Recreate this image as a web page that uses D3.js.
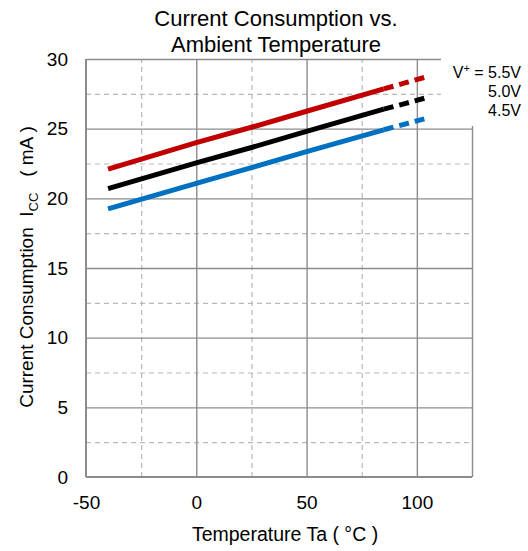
<!DOCTYPE html>
<html>
<head>
<meta charset="utf-8">
<script src="https://cdn.jsdelivr.net/npm/d3@7"></script>
<style>
  body { margin: 0; background: #fff; }
  text { font-family: "Liberation Sans", Arial, sans-serif; fill: #000; }
</style>
</head>
<body>
<div id="chart"></div>
<script>
// data
var solidTemps = [-40, 0, 25, 50, 85];
var dashTemps = [85, 95, 105];
var red55Solid = [22.1, 24.0, 25.1, 26.25, 27.85];
var red55Dash = [27.85, 28.3, 28.75];
var black50Solid = [20.7, 22.55, 23.65, 24.8, 26.4];
var black50Dash = [26.4, 26.82, 27.25];
var blue45Solid = [19.24, 21.07, 22.2, 23.35, 24.92];
var blue45Dash = [24.92, 25.35, 25.77];
var xTicks = [-50, 0, 50, 100];
var yTicks = [0, 5, 10, 15, 20, 25, 30];
var legendLabels = ["5.5V", "5.0V", "4.5V"];

var width = 528, height = 551;

var svg = d3.select("#chart").append("svg")
    .attr("width", width)
    .attr("height", height);

var x = d3.scaleLinear().domain([-50, 125]).range([86, 472]);
var y = d3.scaleLinear().domain([0, 30]).range([477, 59]);

// minor dashed grid
svg.append("g")
    .attr("transform", "translate(0," + y(0) + ")")
    .call(d3.axisBottom(x).tickValues([-25, 25, 75]).tickSize(-(y(0) - y(30))).tickFormat(""))
    .call(function(g) { g.select(".domain").remove(); })
    .selectAll("line")
    .attr("stroke", "#b8b8b8")
    .attr("stroke-width", 1.2)
    .attr("stroke-dasharray", "5,4");

svg.append("g")
    .attr("transform", "translate(" + x(-50) + ",0)")
    .call(d3.axisLeft(y).tickValues(d3.range(2.5, 30, 5)).tickSize(-(x(125) - x(-50))).tickFormat(""))
    .call(function(g) { g.select(".domain").remove(); })
    .selectAll("line")
    .attr("stroke", "#b8b8b8")
    .attr("stroke-width", 1.2)
    .attr("stroke-dasharray", "5,4");

// major solid grid
svg.append("g")
    .attr("transform", "translate(0," + y(0) + ")")
    .call(d3.axisBottom(x).tickValues([0, 50, 100, 125]).tickSize(-(y(0) - y(30))).tickFormat(""))
    .call(function(g) { g.select(".domain").remove(); })
    .selectAll("line")
    .attr("stroke", "#8c8c8c")
    .attr("stroke-width", 1.4);

svg.append("g")
    .attr("transform", "translate(" + x(-50) + ",0)")
    .call(d3.axisLeft(y).tickValues([5, 10, 15, 20, 25, 30]).tickSize(-(x(125) - x(-50))).tickFormat(""))
    .call(function(g) { g.select(".domain").remove(); })
    .selectAll("line")
    .attr("stroke", "#8c8c8c")
    .attr("stroke-width", 1.4);

// axis frame (left + bottom)
svg.append("line")
    .attr("x1", x(-50)).attr("x2", x(-50))
    .attr("y1", y(30)).attr("y2", y(0))
    .attr("stroke", "#8c8c8c").attr("stroke-width", 2);
svg.append("line")
    .attr("x1", x(-50)).attr("x2", x(125))
    .attr("y1", y(0)).attr("y2", y(0))
    .attr("stroke", "#8c8c8c").attr("stroke-width", 2);

// tick labels (plain hyphen for negatives, like the original)
var plain = function(d) { return String(d); };

svg.append("g")
    .attr("transform", "translate(" + (x(-50) - 15) + ",0)")
    .call(d3.axisLeft(y).tickValues(yTicks).tickSize(0).tickFormat(plain))
    .call(function(g) { g.select(".domain").remove(); })
    .selectAll("text")
    .style("font-size", "19px")
    .style("font-family", "Liberation Sans, Arial, sans-serif")
    .attr("fill", "#000");

svg.append("g")
    .attr("transform", "translate(0," + (y(0) + 15) + ")")
    .call(d3.axisBottom(x).tickValues(xTicks).tickSize(0).tickFormat(plain))
    .call(function(g) { g.select(".domain").remove(); })
    .selectAll("text")
    .style("font-size", "19px")
    .style("font-family", "Liberation Sans, Arial, sans-serif")
    .attr("fill", "#000");

// series
var line = d3.line()
    .x(function(d) { return x(d[0]); })
    .y(function(d) { return y(d[1]); });

var series = [
    {color: "#c00000", solid: red55Solid, dash: red55Dash},
    {color: "#000000", solid: black50Solid, dash: black50Dash},
    {color: "#0070c0", solid: blue45Solid, dash: blue45Dash}
];

series.forEach(function(s) {
    svg.append("path")
        .datum(d3.zip(solidTemps, s.solid))
        .attr("d", line)
        .attr("fill", "none")
        .attr("stroke", s.color)
        .attr("stroke-width", 5);
    svg.append("path")
        .datum(d3.zip(dashTemps, s.dash))
        .attr("d", line)
        .attr("fill", "none")
        .attr("stroke", s.color)
        .attr("stroke-width", 5)
        .attr("stroke-dasharray", "10,6");
});

// legend box covers the top right corner of the grid
svg.append("rect")
    .attr("x", 441).attr("y", 50)
    .attr("width", 90).attr("height", 76)
    .attr("fill", "#fff");

var legend = svg.append("g").attr("text-anchor", "end").style("font-size", "16px");
legend.selectAll("text.lab")
    .data(legendLabels)
    .enter()
    .append("text")
    .attr("class", "lab")
    .attr("x", 521)
    .attr("y", function(d, i) { return 78 + i * 19; })
    .html(function(d, i) {
        if (i == 0) return "V<tspan dy='-6' font-size='11px'>+</tspan><tspan dy='6'>&#160;=&#160;" + d + "</tspan>";
        return d;
    });

// title
var title = svg.append("g").attr("text-anchor", "middle").style("font-size", "22px");
title.append("text").attr("x", 276).attr("y", 26).text("Current Consumption vs.");
title.append("text").attr("x", 276).attr("y", 52).text("Ambient Temperature");

// axis titles
svg.append("text")
    .attr("x", 285).attr("y", 541)
    .attr("text-anchor", "middle")
    .style("font-size", "19.5px")
    .text("Temperature Ta ( °C )");

svg.append("text")
    .attr("transform", "translate(33,267) rotate(-90)")
    .attr("text-anchor", "middle")
    .style("font-size", "19px")
    .html("Current Consumption&#160;&#160;I<tspan dy='5' font-size='13px'>CC</tspan><tspan dy='-5'>&#160;&#160;&#160;( mA )</tspan>");
</script>
</body>
</html>
